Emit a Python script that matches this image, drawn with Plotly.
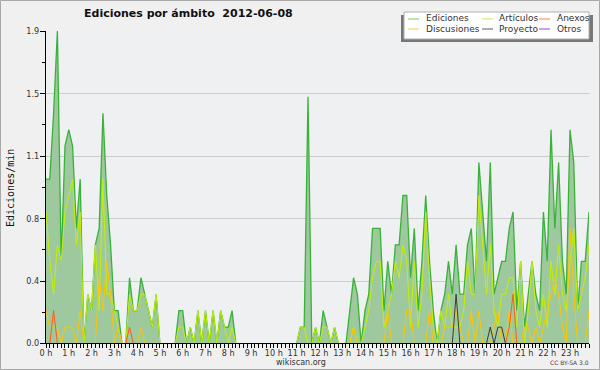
import plotly.graph_objects as go

# ---- data (edits per minute, 10-minute buckets, 2012-06-08) ----
hour_labels = [f"{h} h" for h in range(24)]
y_tick_vals = [0.0, 0.38, 0.76, 1.14, 1.52, 1.9]
y_tick_text = ["0.0", "0.4", "0.8", "1.1", "1.5", "1.9"]

ediciones = [
    1.0, 1.0, 1.4, 1.9, 0.5, 1.2, 1.3, 1.2, 0.7, 1.0,
    0.0, 0.3, 0.2, 0.6, 0.7, 1.4, 0.9, 0.6, 0.2, 0.2,
    0.0, 0.0, 0.4, 0.2, 0.2, 0.4, 0.3, 0.2, 0.1, 0.3,
    0.0, 0.0, 0.0, 0.0, 0.0, 0.2, 0.2, 0.0, 0.1, 0.0,
    0.2, 0.0, 0.2, 0.0, 0.2, 0.0, 0.2, 0.1, 0.1, 0.2,
    0.0, 0.0, 0.0, 0.0, 0.0, 0.0, 0.0, 0.0, 0.0, 0.0,
    0.0, 0.0, 0.0, 0.0, 0.0, 0.0, 0.0, 0.1, 0.1, 1.5,
    0.0, 0.1, 0.0, 0.2, 0.1, 0.0, 0.1, 0.0, 0.0, 0.0,
    0.2, 0.4, 0.3, 0.0, 0.2, 0.3, 0.7, 0.7, 0.7, 0.2,
    0.5, 0.3, 0.6, 0.6, 0.9, 0.9, 0.4, 0.7, 0.2, 0.5,
    0.9, 0.5, 0.2, 0.0, 0.2, 0.3, 0.5, 0.3, 0.6, 0.3,
    0.3, 0.6, 0.7, 0.3, 1.1, 0.8, 0.5, 1.1, 0.3, 0.4,
    0.5, 0.5, 0.7, 0.8, 0.2, 0.5, 0.1, 0.3, 0.5, 0.3,
    0.2, 0.8, 0.5, 1.3, 0.7, 1.1, 0.5, 0.3, 1.3, 1.1,
    0.2, 0.5, 0.5, 0.8,
]
articulos = [
    0.8, 0.5, 0.3, 0.6, 0.5, 0.8, 0.9, 1.0, 0.6, 0.8,
    0.0, 0.3, 0.2, 0.6, 0.2, 1.0, 0.3, 0.3, 0.2, 0.1,
    0.0, 0.0, 0.3, 0.2, 0.2, 0.3, 0.3, 0.2, 0.1, 0.3,
    0.0, 0.0, 0.0, 0.0, 0.0, 0.1, 0.1, 0.0, 0.1, 0.0,
    0.2, 0.0, 0.2, 0.0, 0.2, 0.0, 0.2, 0.1, 0.0, 0.1,
    0.0, 0.0, 0.0, 0.0, 0.0, 0.0, 0.0, 0.0, 0.0, 0.0,
    0.0, 0.0, 0.0, 0.0, 0.0, 0.0, 0.0, 0.1, 0.1, 0.0,
    0.0, 0.1, 0.0, 0.1, 0.1, 0.0, 0.1, 0.0, 0.0, 0.0,
    0.0, 0.1, 0.0, 0.0, 0.1, 0.2, 0.4, 0.5, 0.5, 0.1,
    0.2, 0.3, 0.5, 0.4, 0.6, 0.5, 0.1, 0.5, 0.1, 0.3,
    0.8, 0.4, 0.1, 0.0, 0.2, 0.1, 0.3, 0.1, 0.1, 0.1,
    0.2, 0.5, 0.3, 0.3, 0.9, 0.6, 0.3, 0.6, 0.2, 0.1,
    0.3, 0.3, 0.4, 0.4, 0.1, 0.5, 0.0, 0.2, 0.5, 0.2,
    0.1, 0.3, 0.1, 0.5, 0.3, 0.6, 0.3, 0.2, 0.5, 0.7,
    0.2, 0.3, 0.4, 0.6,
]
discusiones = [
    0.2, 0.1, 0.1, 0.1, 0.0, 0.1, 0.1, 0.1, 0.0, 0.2,
    0.0, 0.0, 0.0, 0.0, 0.4, 0.2, 0.5, 0.3, 0.0, 0.1,
    0.0, 0.0, 0.0, 0.0, 0.0, 0.1, 0.0, 0.0, 0.0, 0.0,
    0.0, 0.0, 0.0, 0.0, 0.0, 0.0, 0.0, 0.0, 0.0, 0.0,
    0.0, 0.0, 0.0, 0.0, 0.0, 0.0, 0.0, 0.0, 0.0, 0.0,
    0.0, 0.0, 0.0, 0.0, 0.0, 0.0, 0.0, 0.0, 0.0, 0.0,
    0.0, 0.0, 0.0, 0.0, 0.0, 0.0, 0.0, 0.0, 0.0, 0.0,
    0.0, 0.0, 0.0, 0.0, 0.0, 0.0, 0.0, 0.0, 0.0, 0.0,
    0.0, 0.1, 0.0, 0.0, 0.0, 0.0, 0.0, 0.0, 0.0, 0.0,
    0.2, 0.0, 0.0, 0.0, 0.0, 0.2, 0.2, 0.0, 0.0, 0.0,
    0.0, 0.2, 0.0, 0.0, 0.0, 0.1, 0.1, 0.1, 0.2, 0.1,
    0.0, 0.0, 0.2, 0.0, 0.2, 0.0, 0.0, 0.0, 0.1, 0.2,
    0.0, 0.0, 0.2, 0.0, 0.0, 0.0, 0.1, 0.1, 0.0, 0.1,
    0.0, 0.1, 0.2, 0.3, 0.4, 0.3, 0.1, 0.0, 0.7, 0.3,
    0.0, 0.0, 0.0, 0.2,
]
anexos = [0.0] * 144
for i, v in [(2, 0.2), (22, 0.1), (122, 0.1), (123, 0.3)]:
    anexos[i] = v
proyecto = [0.0] * 144
for i, v in [(108, 0.3), (117, 0.1), (119, 0.1), (120, 0.1)]:
    proyecto[i] = v
otros = [0.0] * 144

x = list(range(len(ediciones)))

# ---- figure geometry (px) ----
W, H = 600, 370
ML, MR, MT, MB = 46, 11, 31, 27
PW, PH = W - ML - MR, H - MT - MB
Y0 = 0.0035  # bottom of the value axis sits just under zero so zero-valued lines hide behind the axis


def px(xp):
    return (xp - ML) / PW


def py(yp):
    return (H - MB - yp) / PH


fig = go.Figure()
series = [
    ("Otros", otros, "rgb(140,60,240)"),
    ("Artículos", articulos, "rgb(196,240,0)"),
    ("Discusiones", discusiones, "rgb(255,196,0)"),
    ("Anexos", anexos, "rgb(255,90,30)"),
    ("Proyecto", proyecto, "rgb(60,60,60)"),
]
fig.add_trace(go.Scatter(
    x=x, y=ediciones, mode="lines", fill="tozeroy",
    fillcolor="rgb(158,201,158)", line=dict(color="rgb(58,178,58)", width=1.3),
    name="Ediciones", showlegend=False, hoverinfo="skip"))
for name, vals, col in series:
    fig.add_trace(go.Scatter(x=x, y=vals, mode="lines", line=dict(color=col, width=1),
                             name=name, showlegend=False, hoverinfo="skip"))

tick_font = dict(family="DejaVu Sans Condensed, DejaVu Sans", size=9, color="#333333")

fig.update_layout(
    width=W, height=H,
    margin=dict(l=ML, r=MR, t=MT, b=MB, pad=0),
    paper_bgcolor="#f0f0f0", plot_bgcolor="#eef0f2",
    showlegend=False,
    xaxis=dict(
        range=[0, len(x) - 1], tickmode="array",
        tickvals=[6 * h for h in range(24)], ticktext=hour_labels,
        ticks="outside", ticklen=4, tickcolor="black", tickwidth=1,
        showline=True, linecolor="black", linewidth=1, ticklabelstandoff=-3,
        showgrid=False, zeroline=False, tickfont=tick_font,
        minor=dict(tickmode="linear", tick0=0, dtick=1, ticks="outside",
                   ticklen=4, tickcolor="black", showgrid=False),
    ),
    yaxis=dict(
        range=[Y0, 1.9], tickmode="array",
        tickvals=[max(v, Y0) for v in y_tick_vals], ticktext=y_tick_text,
        ticks="outside", ticklen=5, tickcolor="black", tickwidth=1,
        showline=True, linecolor="black", linewidth=1, ticklabelstandoff=-1,
        showgrid=True, gridcolor="#cccccc", gridwidth=1, zeroline=False,
        tickfont=tick_font,
        minor=dict(tickmode="array", tickvals=[0.19, 0.57, 0.95, 1.33, 1.71],
                   ticks="outside", ticklen=3, tickcolor="black", showgrid=False),
    ),
)

ann = []
ann.append(dict(text="<b>Ediciones por ámbito  2012-06-08</b>", x=px(188.5), y=py(14),
                xref="paper", yref="paper", showarrow=False, xanchor="center", yanchor="middle",
                font=dict(family="DejaVu Sans", size=11, color="#111111")))
ann.append(dict(text="Ediciones/min", x=px(10), y=py(188), textangle=-90,
                xref="paper", yref="paper", showarrow=False, xanchor="center", yanchor="middle",
                font=dict(family="DejaVu Sans Mono", size=10, color="#111111")))
ann.append(dict(text="wikiscan.org", x=px(300.5), y=py(362),
                xref="paper", yref="paper", showarrow=False, xanchor="center", yanchor="middle",
                font=dict(family="DejaVu Sans", size=8, color="#333333")))
ann.append(dict(text="CC BY-SA 3.0", x=px(569), y=py(362.5),
                xref="paper", yref="paper", showarrow=False, xanchor="center", yanchor="middle",
                font=dict(family="DejaVu Sans", size=6, color="#444444")))

shapes = []
# outer frame
shapes.append(dict(type="rect", xref="paper", yref="paper", x0=px(0.5), x1=px(599.5),
                   y0=py(0.5), y1=py(369.5), line=dict(color="#a8a8a8", width=1),
                   fillcolor="rgba(0,0,0,0)", layer="below"))
# legend box with shadow
shapes.append(dict(type="rect", xref="paper", yref="paper", x0=px(401), x1=px(593),
                   y0=py(42), y1=py(15), line=dict(width=0), fillcolor="#777777", layer="above"))
shapes.append(dict(type="rect", xref="paper", yref="paper", x0=px(404), x1=px(589),
                   y0=py(39), y1=py(12), line=dict(color="#b0b0b0", width=1),
                   fillcolor="#ffffff", layer="above"))
legend_items = [
    ("Ediciones", "rgb(120,200,120)", 408, 424, 19),
    ("Artículos", "rgb(200,238,80)", 482, 497, 19),
    ("Anexos", "rgb(255,130,80)", 539, 555, 19),
    ("Discusiones", "rgb(255,204,70)", 408, 424, 29),
    ("Proyecto", "rgb(90,90,90)", 482, 497, 29),
    ("Otros", "rgb(150,70,230)", 539, 555, 29),
]
for name, col, lx, tx, yy in legend_items:
    shapes.append(dict(type="line", xref="paper", yref="paper", x0=px(lx), x1=px(lx + 11),
                       y0=py(yy), y1=py(yy), line=dict(color=col, width=1), layer="above"))
    ann.append(dict(text=name, x=px(tx), y=py(yy - 0.5), xref="paper", yref="paper",
                    showarrow=False, xanchor="left", yanchor="middle",
                    font=dict(family="DejaVu Sans", size=9, color="#333333")))

fig.update_layout(annotations=ann, shapes=shapes)

fig.write_html("out.html", config={"displayModeBar": False},
               post_script="document.body.style.margin='0px';")
